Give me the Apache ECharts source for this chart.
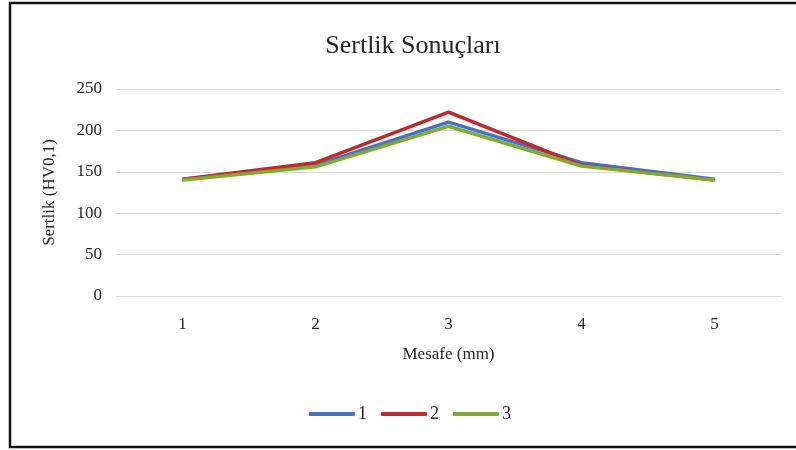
<!DOCTYPE html>
<html>
<head>
<meta charset="utf-8">
<script src="https://cdn.jsdelivr.net/npm/echarts@6/dist/echarts.min.js"></script>
<style>
  html, body { margin: 0; padding: 0; background: #fff; }
  #chart { width: 796px; height: 450px; }
</style>
</head>
<body>
<div id="chart"></div>
<script>
// Hardness profile across the sample distance
const distances = ['1', '2', '3', '4', '5'];
const seriesNames = ['1', '2', '3'];
const hardness1 = [141, 158, 210, 161, 141];
const hardness2 = [141, 161, 222, 158, 140];
const hardness3 = [140, 156, 205, 157, 140];
const colors = ['#4472C4', '#C0282D', '#7EAB32'];

const font = '"Liberation Serif", "Times New Roman", serif';
const textColor = '#262626';
const chart = echarts.init(document.getElementById('chart'));

chart.setOption({
  animation: false,
  textStyle: { fontFamily: font },
  title: {
    text: 'Sertlik Sonuçları',
    left: 408, top: 28, textAlign: 'center',
    textStyle: { fontFamily: font, fontSize: 26, fontWeight: 'normal', color: textColor }
  },
  graphic: [{
    type: 'rect',
    shape: { x: 10, y: 3, width: 800, height: 444 },
    style: { fill: 'none', stroke: '#111', lineWidth: 2.5 }
  }],
  legend: {
    data: seriesNames,
    bottom: 22, left: 304,
    itemWidth: 46, itemHeight: 4, itemGap: 14,
    icon: 'roundRect',
    textStyle: { fontFamily: font, fontSize: 18, color: textColor, padding: [0, 0, 0, -2] }
  },
  grid: { left: 116, right: 15, top: 89, bottom: 154, containLabel: false },
  xAxis: {
    type: 'category',
    data: distances,
    boundaryGap: true,
    name: 'Mesafe (mm)',
    nameLocation: 'middle',
    nameGap: 50,
    nameTextStyle: { fontFamily: font, fontSize: 17, color: textColor },
    axisLine: { lineStyle: { color: '#d9d9d9', width: 1 } },
    axisTick: { show: false },
    axisLabel: { fontFamily: font, fontSize: 17, color: textColor, margin: 20 }
  },
  yAxis: {
    type: 'value',
    min: 0, max: 250, interval: 50,
    name: 'Sertlik (HV0,1)',
    nameLocation: 'middle',
    nameGap: 58,
    nameTextStyle: { fontFamily: font, fontSize: 17, color: textColor },
    axisLine: { show: false },
    axisTick: { show: false },
    splitLine: { lineStyle: { color: '#d9d9d9', width: 1 } },
    axisLabel: { fontFamily: font, fontSize: 17, color: textColor, margin: 14 }
  },
  series: [
    { name: seriesNames[0], type: 'line', data: hardness1, symbol: 'none',
      lineStyle: { color: colors[0], width: 3.5 }, itemStyle: { color: colors[0] } },
    { name: seriesNames[1], type: 'line', data: hardness2, symbol: 'none',
      lineStyle: { color: colors[1], width: 3.5 }, itemStyle: { color: colors[1] } },
    { name: seriesNames[2], type: 'line', data: hardness3, symbol: 'none',
      lineStyle: { color: colors[2], width: 3.5 }, itemStyle: { color: colors[2] } }
  ]
});
</script>
</body>
</html>
